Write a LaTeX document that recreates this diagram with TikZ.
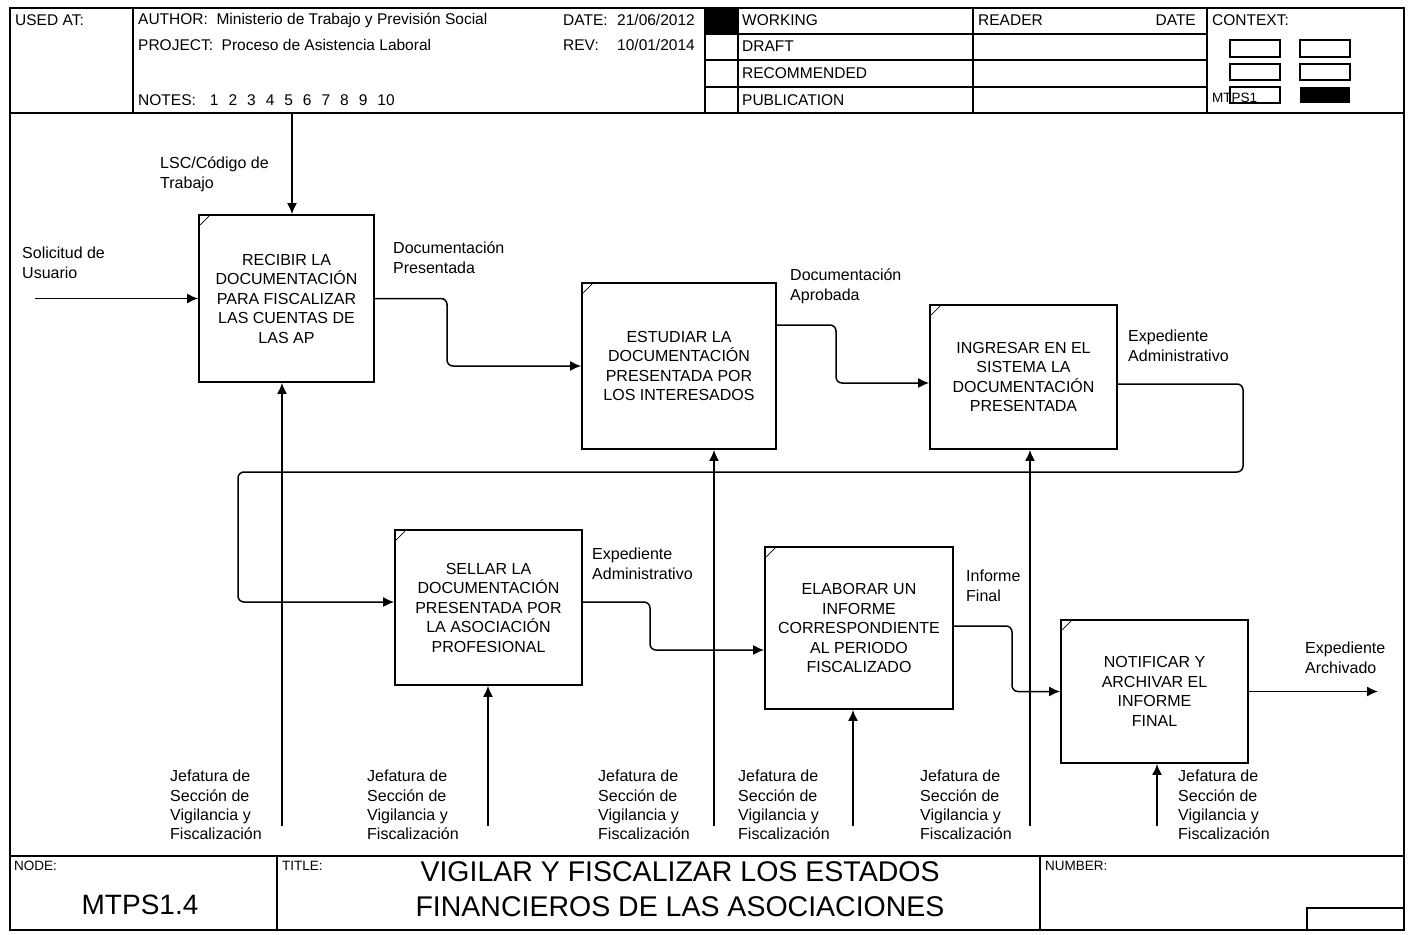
\documentclass[tikz,border=0pt]{standalone}
\usepackage{fontspec}
\setmainfont{Liberation Sans}
\usetikzlibrary{arrows.meta,calc}
\begin{document}
\begin{tikzpicture}[x=1pt,y=-1pt,
  frameline/.style={line width=1.5pt},
  act/.style={draw, line width=1.8pt, align=center, inner sep=0pt, font=\fontsize{16}{19.5}\selectfont},
  lbl/.style={anchor=north west, inner sep=0pt, align=left, font=\fontsize{16}{19.3}\selectfont},
  hdr/.style={anchor=west, inner sep=0pt, font=\fontsize{15.5}{17}\selectfont},
  small/.style={anchor=west, inner sep=0pt, font=\fontsize{13.5}{15}\selectfont},
  arr/.style={line width=1.5pt, -{Latex[length=11pt,width=10pt]}},
  flow/.style={arr, rounded corners=6pt},
  cornermark/.style={line width=0.7pt}
]
\useasboundingbox (0,0) rectangle (1410,934);
\fill[white] (0,0) rectangle (1410,934);

% ---------- frame and header ----------
\draw[frameline] (10,8) rectangle (1404,930);
\draw[frameline] (10,113) -- (1404,113);
\draw[frameline] (10,856) -- (1404,856);
\draw[frameline] (133,8) -- (133,113);
\draw[frameline] (705,8) -- (705,113);
\draw[frameline] (738,8) -- (738,113);
\draw[frameline] (973,8) -- (973,113);
\draw[frameline] (1207,8) -- (1207,113);
\foreach \yy in {34,60,87} \draw[frameline] (705,\yy) -- (1207,\yy);
\fill[black] (705,8) rectangle (738,34);

\node[hdr] (usedat) at (15,20) {USED AT:};
\node[hdr] (author) at (138,20) {AUTHOR:\ \ Ministerio de Trabajo y Previsión Social};
\node[hdr] (project) at (138,45) {PROJECT:\ \ Proceso de Asistencia Laboral};
\node[hdr] (notes) at (138,100) {NOTES:\hspace{14pt}1\hspace{10pt}2\hspace{10pt}3\hspace{10pt}4\hspace{10pt}5\hspace{10pt}6\hspace{10pt}7\hspace{10pt}8\hspace{10pt}9\hspace{10pt}10};
\node[hdr] (datek) at (563,20) {DATE:};
\node[hdr] (datev) at (617,20) {21/06/2012};
\node[hdr] (revk) at (563,45) {REV:};
\node[hdr] (revv) at (617,45) {10/01/2014};
\node[hdr] (working) at (742,20) {WORKING};
\node[hdr] (draft) at (742,46) {DRAFT};
\node[hdr] (recom) at (742,73) {RECOMMENDED};
\node[hdr] (publ) at (742,100) {PUBLICATION};
\node[hdr] (reader) at (978,20) {READER};
\node[hdr, anchor=east] (rdate) at (1196,20) {DATE};
\node[hdr] (context) at (1212,20) {CONTEXT:};
\foreach \xx in {1230,1300} {
  \draw[line width=1.4pt] (\xx,40) rectangle ++(50,17);
  \draw[line width=1.4pt] (\xx,64) rectangle ++(50,16);
}
\draw[line width=1.4pt] (1230,87) rectangle ++(50,16);
\fill[black] (1300,87) rectangle ++(50,16);
\node[small] (ctxnode) at (1212,98) {MTPS1};

% ---------- footer ----------
\draw[frameline] (277,856) -- (277,930);
\draw[frameline] (1040,856) -- (1040,930);
\draw[frameline] (1307,930) -- (1307,908) -- (1404,908);
\node[small] (nodek) at (14,866) {NODE:};
\node[small] (titlek) at (282,866) {TITLE:};
\node[small] (numberk) at (1045,866) {NUMBER:};
\node[inner sep=0pt, font=\fontsize{28}{30}\selectfont] (nodev) at (140,905) {MTPS1.4};
\node[inner sep=0pt, align=center, font=\fontsize{28.5}{35}\selectfont] (title) at (680,889) {VIGILAR Y FISCALIZAR LOS ESTADOS\\FINANCIEROS DE LAS ASOCIACIONES};

% ---------- activity boxes ----------
\node[act, minimum width=175pt, minimum height=167pt] (b1) at (286.5,298.5)
  {RECIBIR LA\\DOCUMENTACIÓN\\PARA FISCALIZAR\\LAS CUENTAS DE\\LAS AP};
\node[act, minimum width=194pt, minimum height=166pt] (b2) at (679,366)
  {ESTUDIAR LA\\DOCUMENTACIÓN\\PRESENTADA POR\\LOS INTERESADOS};
\node[act, minimum width=187pt, minimum height=144pt] (b3) at (1023.5,377)
  {INGRESAR EN EL\\SISTEMA LA\\DOCUMENTACIÓN\\PRESENTADA};
\node[act, minimum width=187pt, minimum height=155pt] (b4) at (488.5,607.5)
  {SELLAR LA\\DOCUMENTACIÓN\\PRESENTADA POR\\LA ASOCIACIÓN\\PROFESIONAL};
\node[act, minimum width=188pt, minimum height=162pt] (b5) at (859,628)
  {ELABORAR UN\\INFORME\\CORRESPONDIENTE\\AL PERIODO\\FISCALIZADO};
\node[act, minimum width=187pt, minimum height=143pt] (b6) at (1154.5,691.5)
  {NOTIFICAR Y\\ARCHIVAR EL\\INFORME\\FINAL};
\foreach \b in {b1,b2,b3,b4,b5,b6}
  \draw[cornermark] ([shift={(2pt,-11pt)}]\b.north west) -- ([shift={(11pt,-2pt)}]\b.north west);

% ---------- inputs / controls / outputs ----------
\coordinate (in1) at (35,298.5);
\draw[arr] (in1) -- (b1.west);
\coordinate (ct1) at (292,113);
\draw[arr] (ct1) -- (ct1 |- b1.north);
\draw[flow] (b1.east) -- (447,298.5) -- (447,366) -- (b2.west);
\draw[flow] ([yshift=41pt]b2.east) -- (836,325) -- (836,383) -- ([yshift=-6pt]b3.west);
\draw[flow] ([yshift=-7pt]b3.east) -- (1243,384) -- (1243,472) -- (238,472) -- (238,602) -- ([yshift=5.5pt]b4.west);
\draw[flow] ([yshift=5.5pt]b4.east) -- (650,602) -- (650,650) -- ([yshift=-22pt]b5.west);
\draw[flow] ([yshift=2pt]b5.east) -- (1012,626) -- (1012,691.5) -- (b6.west);
\coordinate (out6) at (1378,691.5);
\draw[arr] (b6.east) -- (out6);

% ---------- mechanisms ----------
\foreach \xx/\b in {282/b1,488/b4,714/b2,853/b5,1030/b3,1157/b6} {
  \coordinate (m\b) at (\xx,826);
  \draw[arr] (m\b) -- (m\b |- \b.south);
}

% ---------- arrow labels ----------
\node[lbl] (l1) at (160,157) {LSC/Código de\\Trabajo};
\node[lbl] (l2) at (22,247) {Solicitud de\\Usuario};
\node[lbl] (l3) at (393,242) {Documentación\\Presentada};
\node[lbl] (l4) at (790,269) {Documentación\\Aprobada};
\node[lbl] (l5) at (1128,330) {Expediente\\Administrativo};
\node[lbl] (l6) at (592,548) {Expediente\\Administrativo};
\node[lbl] (l7) at (966,570) {Informe\\Final};
\node[lbl] (l8) at (1305,642) {Expediente\\Archivado};
\foreach \xx in {170,367,598,738,920,1178}
  \node[lbl] (j\xx) at (\xx,770) {Jefatura de\\Sección de\\Vigilancia y\\Fiscalización};
\end{tikzpicture}
\end{document}
